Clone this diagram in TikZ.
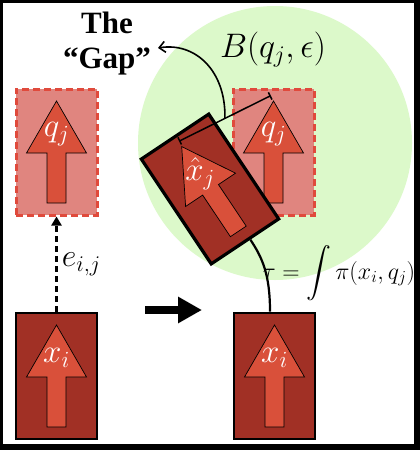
\RequirePackage{fix-cm}
\documentclass[tikz,border=0pt]{standalone}
\usepackage{amsmath}
\usepackage{fontspec}
\usetikzlibrary{arrows.meta,calc}
\newfontfamily\gapfont{Liberation Serif}

\definecolor{ballgreen}{HTML}{DCF9CA}
\definecolor{cellred}{HTML}{A13025}
\definecolor{arrowred}{HTML}{D9503A}
\definecolor{ghostfill}{HTML}{E0857F}
\definecolor{ghostline}{HTML}{E04A3C}

\begin{document}
\begin{tikzpicture}[
    x=1pt, y=-1pt,
    cellbox/.style={draw=black, line width=2.8pt, fill=cellred,
      minimum width=81pt, minimum height=126pt, inner sep=0pt},
    ghostbox/.style={draw=ghostline, line width=3pt, fill=ghostfill,
      dash pattern=on 7pt off 4pt,
      minimum width=81pt, minimum height=126pt, inner sep=0pt},
    celltext/.style={text=white, font=\fontsize{33}{38}\selectfont, inner sep=0pt},
    mathlabel/.style={font=\fontsize{32}{38}\selectfont, inner sep=1pt},
    edgedash/.style={-{Triangle[length=9pt,width=10pt]}, line width=2.5pt,
      dash pattern=on 6pt off 4pt},
    bigstep/.style={-{Triangle[length=24pt,width=25pt]}, line width=8pt},
    tauline/.style={line width=2.2pt},
    dimline/.style={{Bar[width=8pt]}-{Bar[width=8pt]}, line width=1.5pt},
    gapline/.style={-{Straight Barb[length=6pt,width=11pt]}, line width=1.6pt},
    pics/bigarrow/.style={code={
      \draw[fill=arrowred, line width=0.7pt] (0,-51) -- (30,1) -- (9.5,1)
        -- (9.5,51) -- (-9.5,51) -- (-9.5,1) -- (-30,1) -- cycle;
      \coordinate (-tip) at (0,-51);
      \node[celltext] (-lbl) at (0,-18) {#1};
    }}
  ]
  \fill[black] (0,0) rectangle (420,450);
  \fill[white] (3,3) rectangle (414,444);
  \fill[ballgreen] (275,143) circle (137pt);

  \node[ghostbox] (qleft) at (56.5,152) {};
  \node[ghostbox] (qright) at (273.5,152) {};
  \node[cellbox] (xleft) at (56.5,376) {};
  \node[cellbox] (xright) at (274.5,376) {};
  \pic (qa) at (qleft) {bigarrow={$q_j$}};
  \pic (qb) at (qright) {bigarrow={$q_j$}};
  \pic (xa) at (xleft) {bigarrow={$x_i$}};
  \pic (xb) at (xright) {bigarrow={$x_i$}};

  \node[cellbox, line width=3.2pt, rotate=33.7] (xhat) at (210,189) {};
  \pic[rotate=33.7] (xc) at (xhat) {bigarrow={$\hat{x}_j$}};

  \draw[edgedash] (xleft.north) -- node[mathlabel, anchor=west, xshift=3pt]
    (elbl) {$e_{i,j}$} (qleft.south);

  \coordinate (stepL) at (145,310);
  \coordinate (stepR) at (202,310);
  \draw[bigstep] (stepL) -- (stepR);

  \draw[tauline] ([xshift=-4.5pt]xright.north) .. controls +(0,-37) and +(12,18)
    .. ($(xhat.south)!0.13!(xhat.south east)$);
  \node[font=\fontsize{24}{28}\selectfont, inner sep=0pt] (taulbl) at (339,273)
    {$\tau = \displaystyle\int \pi(x_i, q_j)$};

  \node[font=\fontsize{34}{40}\selectfont, inner sep=0pt] (ball) at (273,50)
    {$B(q_j, \epsilon)$};

  \coordinate (dimA) at ($(xc-tip)!6pt!90:(qb-tip)$);
  \coordinate (dimB) at ($(qb-tip)!6pt!-90:(xc-tip)$);
  \draw[dimline] (dimA) -- (dimB);

  \node[font=\gapfont\bfseries\fontsize{31}{35}\selectfont, align=center,
    inner sep=0pt] (gaptxt) at (107,44) {The\\“Gap”};
  \coordinate (gapend) at (158,48);
  \draw[gapline] ($(dimA)!0.5!(dimB)$) .. controls +(1,-48) and +(37,-6)
    .. (gapend);
\end{tikzpicture}
\end{document}
